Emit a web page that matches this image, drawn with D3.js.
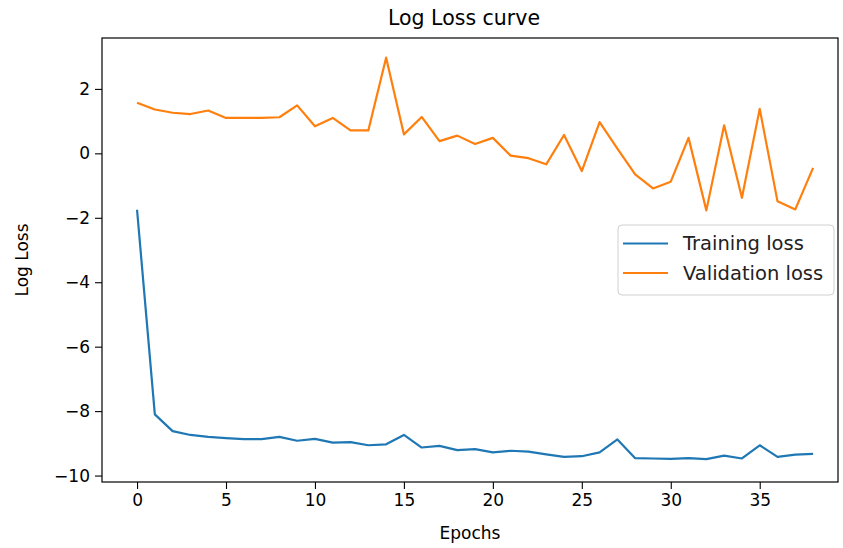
<!DOCTYPE html>
<html>
<head>
<meta charset="utf-8">
<script src="https://cdn.jsdelivr.net/npm/d3@7"></script>
<style>
    body { margin: 0; background: #fff; }
    svg { display: block; font-family: 'DejaVu Sans', sans-serif; }
</style>
</head>
<body>
<div id="chart"></div>
<script>
const epochs = d3.range(0, 39);
const trainingLoss = [
    -1.75, -8.10, -8.62, -8.74, -8.80, -8.84, -8.87, -8.87, -8.80, -8.92,
    -8.86, -8.98, -8.96, -9.06, -9.03, -8.74, -9.13, -9.08, -9.21, -9.18,
    -9.28, -9.23, -9.26, -9.34, -9.42, -9.40, -9.28, -8.88, -9.46, -9.47,
    -9.48, -9.46, -9.49, -9.38, -9.47, -9.06, -9.42, -9.35, -9.33
];
const validationLoss = [
    1.57, 1.36, 1.26, 1.22, 1.33, 1.10, 1.10, 1.10, 1.12, 1.49,
    0.84, 1.10, 0.71, 0.71, 2.97, 0.59, 1.13, 0.38, 0.55, 0.29,
    0.48, -0.07, -0.15, -0.34, 0.57, -0.55, 0.97, 0.15, -0.65, -1.09,
    -0.88, 0.48, -1.77, 0.87, -1.38, 1.38, -1.49, -1.74, -0.45
];
const xTicks = [0, 5, 10, 15, 20, 25, 30, 35];
const yTicks = [2, 0, -2, -4, -6, -8, -10];
const seriesNames = ['Training loss', 'Validation loss'];
const seriesColors = ['#1f77b4', '#ff7f0e'];

function createChart() {
    const width = 843;
    const height = 548;
    const area = { left: 102, right: 838, top: 38, bottom: 482 };

    const svg = d3.select('#chart').append('svg')
        .attr('width', width).attr('height', height);

    const xScale = d3.scaleLinear().domain([-1.97, 39.4]).range([area.left, area.right]);
    const yScale = d3.scaleLinear().domain([-10.2, 3.58]).range([area.bottom, area.top]);

    // lines
    const line = (vals) => d3.line()
        .x((d, i) => xScale(epochs[i]))
        .y((d) => yScale(d))(vals);
    [trainingLoss, validationLoss].forEach((vals, k) => {
        svg.append('path').attr('d', line(vals))
            .attr('fill', 'none').attr('stroke', seriesColors[k])
            .attr('stroke-width', 2.2).attr('stroke-linejoin', 'round');
    });

    // axes
    const xAxis = d3.axisBottom(xScale).tickValues(xTicks).tickSize(7).tickPadding(5);
    const yAxis = d3.axisLeft(yScale).tickValues(yTicks).tickSize(7).tickPadding(5)
        .tickFormat((d) => d < 0 ? '\u2212' + Math.abs(d) : d);
    const gx = svg.append('g').attr('transform', `translate(0, ${area.bottom})`).call(xAxis);
    const gy = svg.append('g').attr('transform', `translate(${area.left}, 0)`).call(yAxis);
    [gx, gy].forEach((g) => {
        g.select('.domain').remove();
        g.selectAll('line').attr('stroke', '#000').attr('stroke-width', 1.1);
        g.selectAll('text').attr('fill', '#000').style('font-size', '17px')
            .style('font-family', "'DejaVu Sans', sans-serif");
    });

    // frame
    svg.append('rect')
        .attr('x', area.left).attr('y', area.top)
        .attr('width', area.right - area.left).attr('height', area.bottom - area.top)
        .attr('fill', 'none').attr('stroke', '#000').attr('stroke-width', 1.2);

    // titles
    svg.append('text').attr('x', (area.left + area.right) / 2 - 6).attr('y', 25)
        .attr('text-anchor', 'middle').style('font-size', '20.5px').text('Log Loss curve');
    svg.append('text').attr('x', (area.left + area.right) / 2).attr('y', 539)
        .attr('text-anchor', 'middle').style('font-size', '17px').text('Epochs');
    svg.append('text').attr('transform', `translate(28, ${(area.top + area.bottom) / 2}) rotate(-90)`)
        .attr('text-anchor', 'middle').style('font-size', '17px').text('Log Loss');

    // legend
    const legend = svg.append('g').attr('transform', 'translate(618, 225)');
    legend.append('rect').attr('width', 216).attr('height', 70).attr('rx', 4)
        .attr('fill', 'rgba(255,255,255,0.8)').attr('stroke', '#d0d0d0');
    seriesNames.forEach((name, i) => {
        const y = 18.5 + i * 29.5;
        legend.append('line').attr('x1', 5).attr('x2', 50).attr('y1', y).attr('y2', y)
            .attr('stroke', seriesColors[i]).attr('stroke-width', 2.2);
        legend.append('text').attr('x', 65).attr('y', y + 6.5)
            .style('font-size', '19.5px').attr('fill', '#222').text(name);
    });
}

createChart();
</script>
</body>
</html>
